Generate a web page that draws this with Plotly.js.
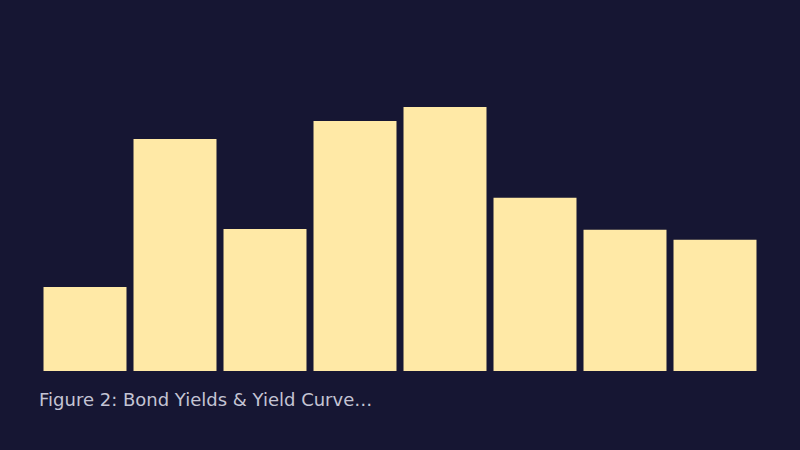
<!DOCTYPE html>
<html>
<head>
<meta charset="utf-8">
<script src="https://cdn.plot.ly/plotly-3.0.1.min.js"></script>
<style>
  html, body { margin: 0; padding: 0; background: #161633; }
  #chart { width: 800px; height: 450px; }
</style>
</head>
<body>
<div id="chart"></div>
<script>
// categories and values (no axes shown)
const categories = ['A', 'B', 'C', 'D', 'E', 'F', 'G', 'H'];
const yields = [2.1, 5.8, 3.55, 6.25, 6.6, 4.33, 3.53, 3.28];
const caption = 'Figure 2: Bond Yields & Yield Curve…';

Plotly.newPlot('chart', [{
    x: categories,
    y: yields,
    type: 'bar',
    marker: { color: '#ffe9a6' },
    hoverinfo: 'none'
}], {
    width: 800,
    height: 450,
    paper_bgcolor: '#161633',
    plot_bgcolor: '#161633',
    margin: { t: 51, b: 79, l: 40, r: 40 },
    bargap: 0.078,
    showlegend: false,
    xaxis: { visible: false, showgrid: false, zeroline: false },
    yaxis: { visible: false, showgrid: false, zeroline: false, range: [0, 8] },
    font: { family: 'DejaVu Sans, sans-serif' },
    annotations: [{
        text: caption,
        xref: 'paper', yref: 'paper',
        x: 0, y: -0.05,
        xanchor: 'left', yanchor: 'top',
        xshift: -3,
        showarrow: false,
        font: { size: 18, color: '#c4c4d4' }
    }]
}, { staticPlot: true });
</script>
</body>
</html>
